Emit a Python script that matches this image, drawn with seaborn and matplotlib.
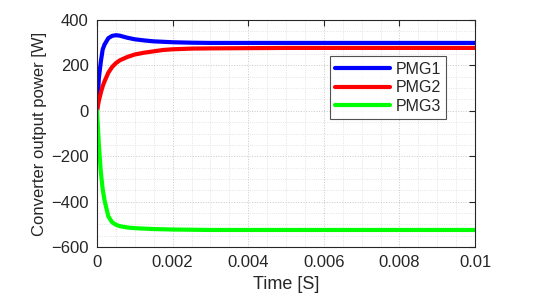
import matplotlib
matplotlib.use("Agg")
import matplotlib.pyplot as plt
import seaborn as sns
import pandas as pd
from matplotlib.ticker import AutoMinorLocator

time_s = [0, 0.00005, 0.0001, 0.00015, 0.0002, 0.0003, 0.0004, 0.0005, 0.0006,
          0.0008, 0.001, 0.00125, 0.0015, 0.00175, 0.002, 0.0025, 0.003, 0.004,
          0.005, 0.006, 0.008, 0.01]
pmg1 = [0, 145, 215, 270, 292, 320, 330, 333, 331, 322, 315, 310, 306, 304,
        302, 300, 299, 299, 299, 299, 299, 299]
pmg2 = [0, 45, 79, 108, 130, 168, 193, 210, 222, 237, 248, 256, 262, 268,
        271, 274, 275, 276, 277, 277, 277, 277]
pmg3 = [0, -151, -268, -345, -395, -465, -491, -502, -508, -514, -517, -519,
        -521, -522, -523, -524, -525, -525, -525, -525, -525, -525]
series_names = ["PMG1", "PMG2", "PMG3"]
colors = ["#0000ff", "#ff0000", "#00ff00"]

df = pd.concat([
    pd.DataFrame({"t": time_s, "P": v, "s": n})
    for v, n in zip([pmg1, pmg2, pmg3], series_names)
])

sns.set_style("white")
plt.rcParams["font.family"] = ["Liberation Sans", "DejaVu Sans"]

fig = plt.figure(figsize=(5.35, 3.08), dpi=100)
ax = fig.add_axes([97/535, 1-247/308, 378/535, 227/308])
sns.lineplot(data=df, x="t", y="P", hue="s", palette=colors, linewidth=3.0,
             ax=ax, legend=True)
ax.set_xlim(0, 0.01)
ax.set_ylim(-600, 400)
ax.set_xticks([0, 0.002, 0.004, 0.006, 0.008, 0.01])
ax.set_xticklabels(["0", "0.002", "0.004", "0.006", "0.008", "0.01"])
ax.set_yticks([-600, -400, -200, 0, 200, 400])
ax.xaxis.set_minor_locator(AutoMinorLocator(4))
ax.yaxis.set_minor_locator(AutoMinorLocator(4))
ax.grid(True, which="major", linestyle=":", color="#c8c8c8", linewidth=0.7)
ax.grid(True, which="minor", linestyle=":", color="#dcdcdc", linewidth=0.6)
ax.tick_params(which="major", direction="in", length=4, top=True, right=True,
               labelsize=12, colors="#262626", width=0.8, pad=6)
ax.tick_params(which="minor", length=0)
for sp in ax.spines.values():
    sp.set_color("#262626")
    sp.set_linewidth(0.8)
ax.set_xlabel("Time [S]", fontsize=13, color="#262626", labelpad=4)
ax.set_ylabel("Converter output power [W]", fontsize=12, color="#262626", labelpad=3)
leg = ax.legend(loc="upper left", bbox_to_anchor=(0.616, 0.841), fontsize=11.5,
                frameon=True, fancybox=False, edgecolor="#262626",
                borderpad=0.35, labelspacing=0.22, handlelength=3.4,
                handletextpad=0.35, borderaxespad=0)
leg.get_frame().set_linewidth(0.8)
for l in leg.get_lines():
    l.set_linewidth(3.0)
fig.savefig("out.png", dpi=100)
